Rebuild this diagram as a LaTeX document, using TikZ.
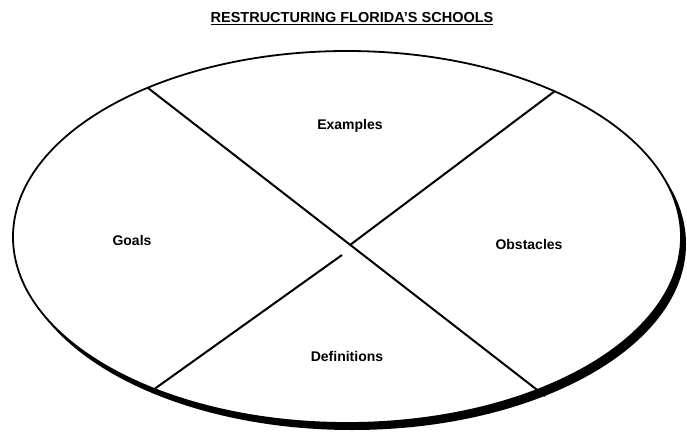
\documentclass[tikz,border=0pt]{standalone}
\usepackage{fontspec}
\setmainfont{Liberation Sans}
\usepackage{xcolor}

\begin{document}
\begin{tikzpicture}[x=1pt, y=-1pt, line width=2pt,
  label/.style={font=\fontsize{14}{16}\selectfont\bfseries}]
  \useasboundingbox (0,0) rectangle (687,433);
  % Title
  \node [font=\fontsize{14.5}{17}\selectfont\bfseries] (title) at (352,19) {\underline{RESTRUCTURING FLORIDA'S SCHOOLS}};

  % Define the disc with its thick lower rim
  \fill [black] (352,244) ellipse [x radius=334, y radius=186];
  \draw [fill=white, line width=1.8pt] (347,237) ellipse [x radius=334, y radius=186];

  % Points on the rim and in the middle
  \coordinate (ul) at (148,88);
  \coordinate (lr) at (545,396);
  \coordinate (ur) at (555,91);
  \coordinate (mid) at (350,245);
  \coordinate (mid2) at (342,255);
  \coordinate (ll) at (153,390);

  % Dividing lines
  \draw (ul) -- (lr);
  \draw (ur) -- (mid);
  \draw (mid2) -- (ll);

  % Labels
  \node [label] (examples) at (350,126) {Examples};
  \node [label] (goals) at (132,240) {Goals};
  \node [label] (obstacles) at (529,244) {Obstacles};
  \node [label] (definitions) at (347,356) {Definitions};
\end{tikzpicture}
\end{document}
